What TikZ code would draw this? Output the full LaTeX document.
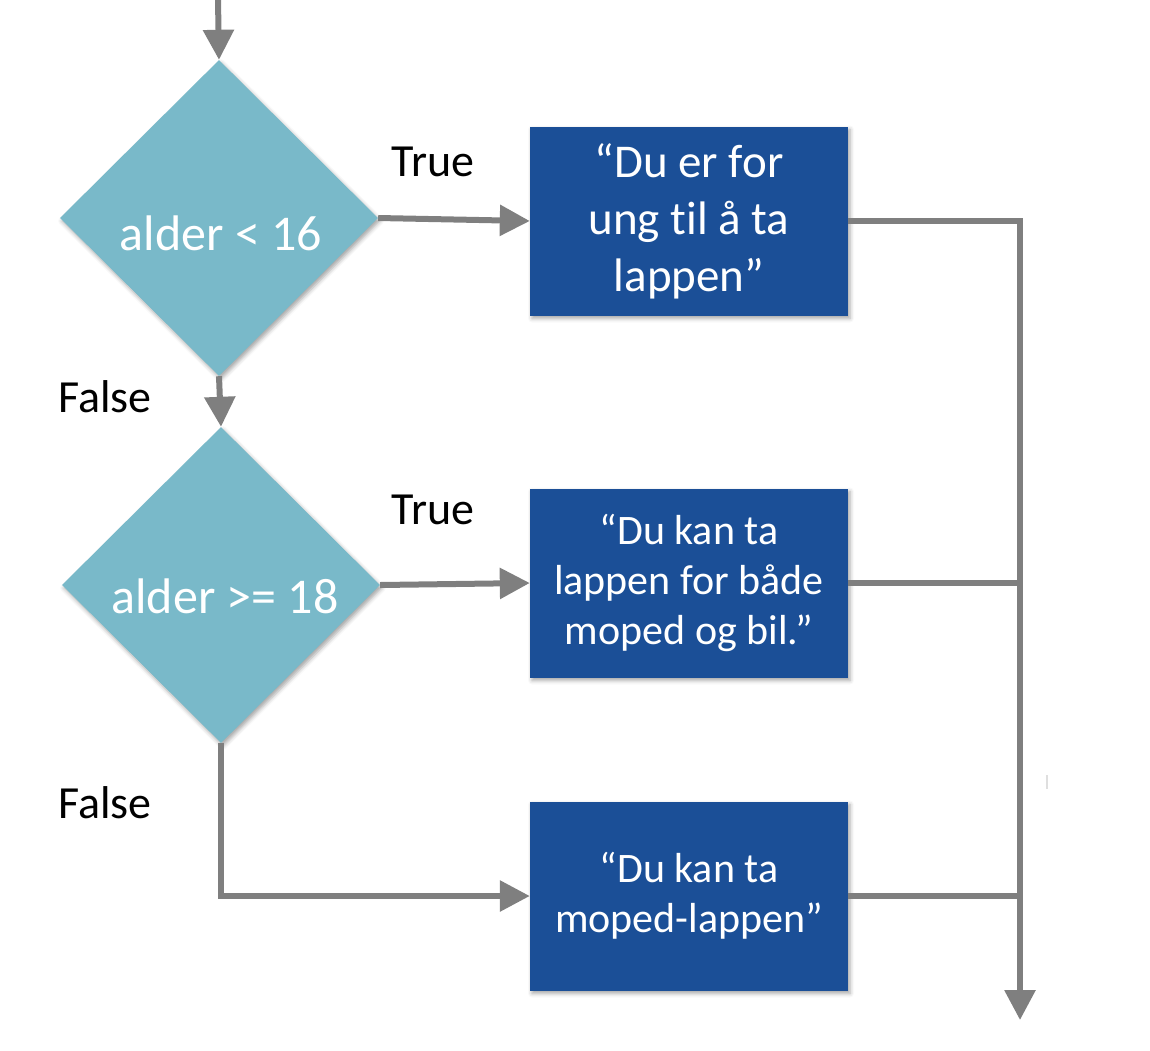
\documentclass[tikz,border=0pt]{standalone}
\usepackage{fontspec}
\setmainfont{Carlito}[Ligatures=NoCommon]
\usetikzlibrary{shapes.geometric,arrows.meta,shadows.blur}
\definecolor{boxblue}{HTML}{1B4F97}
\definecolor{diateal}{HTML}{79B9C9}
\definecolor{linegray}{HTML}{7F7F7F}
\begin{document}
\begin{tikzpicture}[x=1pt,y=-1pt,
  softshadow/.style={blur shadow={shadow xshift=2pt,shadow yshift=-3pt,shadow blur radius=4pt,shadow opacity=35}},
  decision/.style={diamond,fill=diateal,minimum width=318pt,minimum height=316pt,inner sep=0pt,softshadow},
  dtext/.style={text=white,font=\fontsize{50}{60}\selectfont,inner sep=0pt},
  action/.style={rectangle,fill=boxblue,minimum width=318pt,minimum height=189pt,inner sep=0pt,text=white,align=center,softshadow},
  bigtxt/.style={font=\fontsize{47}{57}\selectfont},
  smalltxt/.style={font=\fontsize{42}{50}\selectfont},
  flow/.style={draw=linegray,line width=6pt,-{Triangle[length=30pt,width=30pt]}},
  plainline/.style={draw=linegray,line width=6pt},
  lbl/.style={font=\fontsize{46}{55}\selectfont,inner sep=0pt}]
\useasboundingbox (0,0) rectangle (1150,1050);

% nodes
\node[decision] (d1) at (219,218) {};
\node[dtext] (d1t) at (221,233) {alder < 16};
\node[decision] (d2) at (221,585) {};
\node[dtext] (d2t) at (225,596) {alder >= 18};

\node[action,bigtxt] (b1) at (689,221) {“Du er for\\ung til å ta\\lappen”};
\node[action,smalltxt] (b2) at (689,583) {“Du kan ta\\lappen for både\\moped og bil.”};
\node[action,smalltxt] (b3) at (689,896) {“Du kan ta\\moped-lappen”};

\node[lbl] (t1) at (433,162) {True};
\node[lbl] (t2) at (433,510) {True};
\node[lbl] (f1) at (105,397) {False};
\node[lbl] (f2) at (105,803) {False};

\coordinate (start) at (218,0);
\coordinate (bot) at (1020,1020);

% connectors
\draw[flow] (start) -- (d1.north);
\draw[flow] (d1.east) -- (b1.west);
\draw[flow] (d1.south) -- (d2.north);
\draw[flow] (d2.east) -- (b2.west);
\draw[flow] (d2.south) |- (b3.west);
\draw[flow] (b1.east) -| (bot);
\draw[plainline] (b2.east) -- (b2.east -| bot);
\draw[plainline] (b3.east) -- (b3.east -| bot);

% stray mark
\draw[gray!25,line width=1.5pt] (1047,775) -- (1047,789);
\end{tikzpicture}
\end{document}
